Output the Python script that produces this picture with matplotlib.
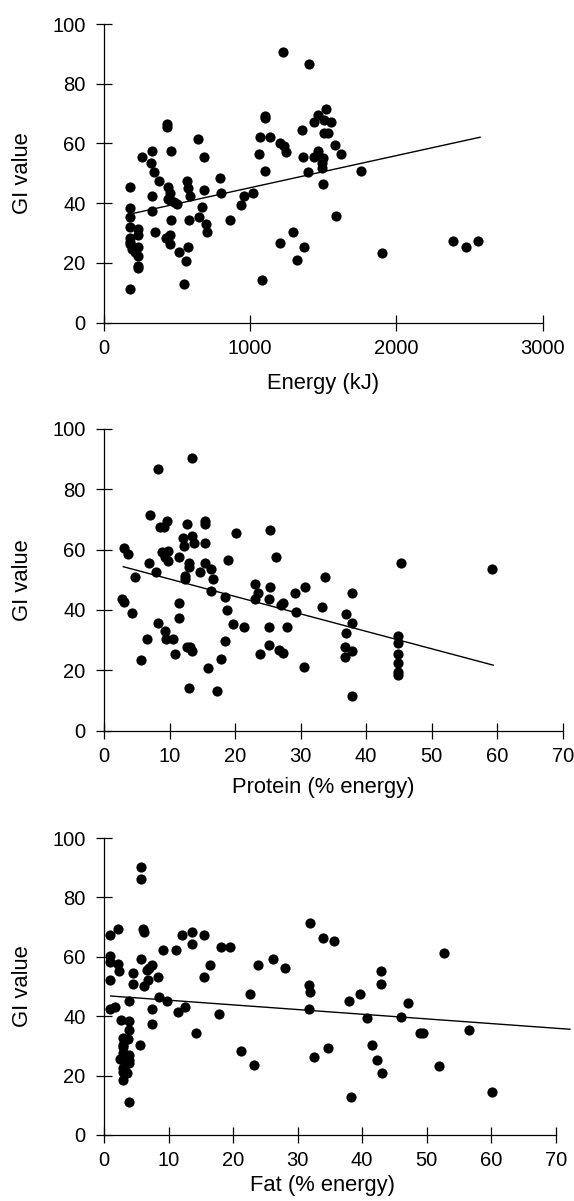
import matplotlib

matplotlib.use("Agg")
import matplotlib.pyplot as plt

# Panel A: energy (kJ) vs GI
energy_kj = [178, 178, 178, 178, 230, 230, 178, 178, 189, 235, 230, 230, 230, 178,
             262, 331, 321, 342, 378, 331, 331, 349, 429, 429, 458, 440, 451, 451,
             479, 502, 458, 451, 424, 451, 515, 559, 547, 577, 581, 588, 577, 570,
             645, 686, 684, 673, 652, 695, 702, 793, 800, 862, 937, 958, 1017, 1078,
             1067, 1060, 1101, 1101, 1101, 1135, 1204, 1228, 1245, 1222, 1204, 1290,
             1318, 1370, 1357, 1359, 1398, 1402, 1436, 1436, 1466, 1466, 1496, 1489,
             1489, 1500, 1507, 1530, 1518, 1507, 1550, 1580, 1619, 1587, 1758, 1899,
             2389, 2474, 2560, 178, 212, 440]
gi_energy = [45.3, 38.4, 35.5, 32.1, 31.3, 29.4, 27.1, 26.2, 24.6, 25.4, 22.3, 19.0, 18.4, 11.2,
             55.5, 57.5, 53.5, 50.4, 47.5, 42.3, 37.4, 30.4, 66.4, 65.4, 57.5, 45.3, 43.3, 41.1,
             40.5, 39.7, 34.3, 29.4, 28.2, 26.2, 23.8, 20.6, 12.8, 25.2, 34.3, 42.3, 45.0, 47.4,
             61.4, 55.5, 44.4, 38.6, 35.4, 32.9, 30.4, 48.3, 43.4, 34.3, 39.3, 42.5, 43.4, 14.3,
             62.3, 56.4, 50.8, 69.3, 68.4, 62.3, 60.3, 59.2, 57.3, 90.5, 26.8, 30.4,
             20.9, 25.4, 64.5, 55.5, 50.6, 86.6, 55.6, 67.3, 69.5, 57.5, 55.0, 53.3,
             51.7, 46.4, 63.4, 63.4, 71.5, 67.9, 67.3, 59.4, 56.4, 35.8, 50.7, 23.2,
             27.5, 25.2, 27.5, 28.2, 23.8, 41.3]
fit_energy_x = [200, 2572]
fit_energy_y = [36.6, 62.1]

# Panel B: protein (% energy) vs GI
protein_pct = [3.1, 3.6, 2.8, 3.1, 4.2, 4.7, 5.7, 6.5, 6.8, 7.0, 7.9, 8.2, 8.3, 8.5, 9.1, 9.6,
               8.8, 9.3, 9.8, 9.8, 9.3, 9.5, 10.5, 10.9, 11.5, 11.5, 11.5, 12.1, 12.2, 12.6,
               13.4, 13.8, 12.9, 13.0, 12.4, 12.3, 12.6, 13.1, 13.5, 13.5, 12.9, 14.6, 15.4,
               15.4, 15.4, 15.4, 16.4, 16.6, 16.3, 15.9, 17.3, 17.9, 18.5, 18.4, 18.7, 18.9,
               19.7, 20.2, 21.3, 23.0, 23.5, 23.1, 23.8, 25.2, 25.2, 25.2, 25.3, 25.4, 26.2,
               26.7, 27.3, 27.0, 27.3, 28.0, 29.2, 29.3, 30.5, 30.6, 33.2, 33.7, 36.8, 36.8,
               36.9, 36.9, 37.8, 37.8, 37.8, 37.8, 44.8, 44.8, 44.9, 44.9, 44.9, 44.9, 45.3,
               59.2]
gi_protein = [60.6, 58.5, 43.5, 42.7, 38.9, 50.8, 23.5, 30.4, 55.5, 71.5, 52.5, 86.5, 35.8, 67.5,
              67.5, 69.5, 59.3, 57.6, 59.5, 56.3, 33.1, 30.4, 30.4, 25.4, 57.6, 42.4, 37.3,
              63.7, 61.1, 68.4, 64.5, 62.3, 55.6, 54.3, 51.2, 50.1, 27.6, 27.6, 26.5, 90.4,
              14.3, 52.5, 69.5, 68.4, 62.3, 55.4, 53.4, 50.2, 46.4, 20.9, 13.0, 23.8, 29.6,
              44.4, 40.0, 56.4, 35.3, 65.5, 34.3, 48.5, 45.5, 43.5, 25.4, 34.4, 28.3, 43.5,
              47.5, 66.4, 57.4, 26.7, 25.6, 41.6, 42.4, 34.3, 45.5, 39.3, 21.0, 47.5, 40.9,
              51.0, 24.3, 27.6, 32.5, 38.5, 45.5, 35.5, 26.5, 11.5, 31.5, 29.2, 25.4, 22.3,
              19.5, 18.4, 55.5, 53.4]
fit_protein_x = [2.95, 59.4]
fit_protein_y = [54.3, 21.7]

# Panel C: fat (% energy) vs GI
fat_pct = [1.0, 2.1, 1.0, 1.0, 2.2, 2.4, 1.0, 1.0, 1.7, 2.6, 3.9, 3.9, 3.0, 3.7, 3.0, 3.0,
           3.8, 2.5, 3.8, 3.0, 3.5, 3.0, 3.9, 3.9, 4.5, 4.5, 5.6, 5.8, 5.8, 6.1, 6.2, 5.8,
           6.6, 7.5, 6.8, 6.2, 8.4, 8.5, 7.5, 7.5, 9.2, 9.8, 11.2, 11.5, 12.6, 12.1, 13.6,
           13.7, 14.2, 15.5, 15.5, 16.5, 17.8, 18.1, 19.6, 21.2, 22.7, 23.3, 23.8, 26.2,
           28.1, 31.9, 31.7, 31.9, 31.8, 32.5, 34.0, 34.7, 35.7, 38.0, 38.3, 39.7, 40.7,
           41.5, 42.3, 43.1, 42.9, 43.0, 46.0, 47.1, 49.0, 49.5, 51.9, 52.7, 56.6, 60.2,
           3.3, 3.8, 3.0, 6.9, 3.0]
gi_fat = [67.3, 69.4, 60.4, 58.4, 57.5, 55.3, 52.2, 42.4, 43.2, 38.7, 38.5, 35.4, 32.5, 32.2,
          29.7, 27.5, 26.9, 25.5, 24.1, 22.4, 20.8, 18.5, 11.2, 45.2, 54.4, 50.8, 30.3, 90.3,
          86.2, 69.4, 68.2, 59.3, 55.6, 57.2, 52.2, 50.3, 53.3, 46.4, 42.3, 37.3, 62.3, 45.2,
          62.3, 41.3, 43.2, 67.3, 68.2, 64.3, 34.2, 67.3, 53.3, 57.2, 40.9, 63.4, 63.4, 28.3,
          47.5, 23.6, 57.2, 59.3, 56.3, 71.3, 50.5, 48.3, 42.3, 26.3, 66.4, 29.4, 65.3, 45.2,
          12.9, 47.4, 39.3, 30.3, 25.3, 20.8, 50.7, 55.3, 39.8, 44.3, 34.2, 34.2, 23.3, 61.4,
          35.4, 14.4,
          23.6, 25.3, 21.3, 56.2, 30.3]
fit_fat_x = [1.03, 72.2]
fit_fat_y = [46.8, 35.6]

W, H = 574, 1201

PANELS = [
    # x data, y data, fit x, fit y, xlabel, xlim, xticks, box (left, right, top, bottom px), label y px
    (energy_kj, gi_energy, fit_energy_x, fit_energy_y, "Energy (kJ)",
     (0, 3000), [0, 1000, 2000, 3000], (104, 542.7, 24, 322.7), 384),
    (protein_pct, gi_protein, fit_protein_x, fit_protein_y, "Protein (% energy)",
     (0, 70), list(range(0, 71, 10)), (104, 562.7, 428.7, 730.7), 788),
    (fat_pct, gi_fat, fit_fat_x, fit_fat_y, "Fat (% energy)",
     (0, 72.8), list(range(0, 71, 10)), (104, 573.8, 838, 1135), 1185),
]


def main() -> None:
    plt.rcParams.update({"font.family": ["Liberation Sans", "DejaVu Sans"]})
    fig = plt.figure(figsize=(W / 100, H / 100), dpi=100)

    for xs, ys, fx, fy, xlabel, xlim, xticks, box, label_y in PANELS:
        left, right, top, bottom = box
        ax = fig.add_axes([left / W, 1 - bottom / H, (right - left) / W, (bottom - top) / H])
        ax.scatter(xs, ys, s=54, color="black", linewidths=0, clip_on=False, zorder=3)
        ax.plot(fx, fy, color="black", linewidth=1.0, clip_on=False)

        ax.set_xlim(*xlim)
        ax.set_ylim(0, 100)
        ax.set_xticks(xticks)
        ax.set_yticks([0, 20, 40, 60, 80, 100])
        ax.spines["top"].set_visible(False)
        ax.spines["right"].set_visible(False)
        ax.spines["bottom"].set_bounds(xticks[0], xticks[-1])
        for side in ("left", "bottom"):
            ax.spines[side].set_linewidth(0.9)
        ax.tick_params(axis="both", direction="inout", length=11.5, width=0.9,
                       labelsize=14.5, colors="black")
        ax.tick_params(axis="y", pad=7.5)
        ax.tick_params(axis="x", pad=6)

        ax.set_xlabel(xlabel, fontsize=15.8)
        ax.xaxis.set_label_coords((323 - left) / (right - left),
                                  -(label_y - bottom) / (bottom - top))
        ax.xaxis.label.set_va("center")
        ax.set_ylabel("GI value", fontsize=15.8)
        ax.yaxis.set_label_coords(-(left - 22) / (right - left), 0.5)
        ax.yaxis.label.set_va("center")

    fig.savefig("out.png", dpi=100)


if __name__ == "__main__":
    main()
